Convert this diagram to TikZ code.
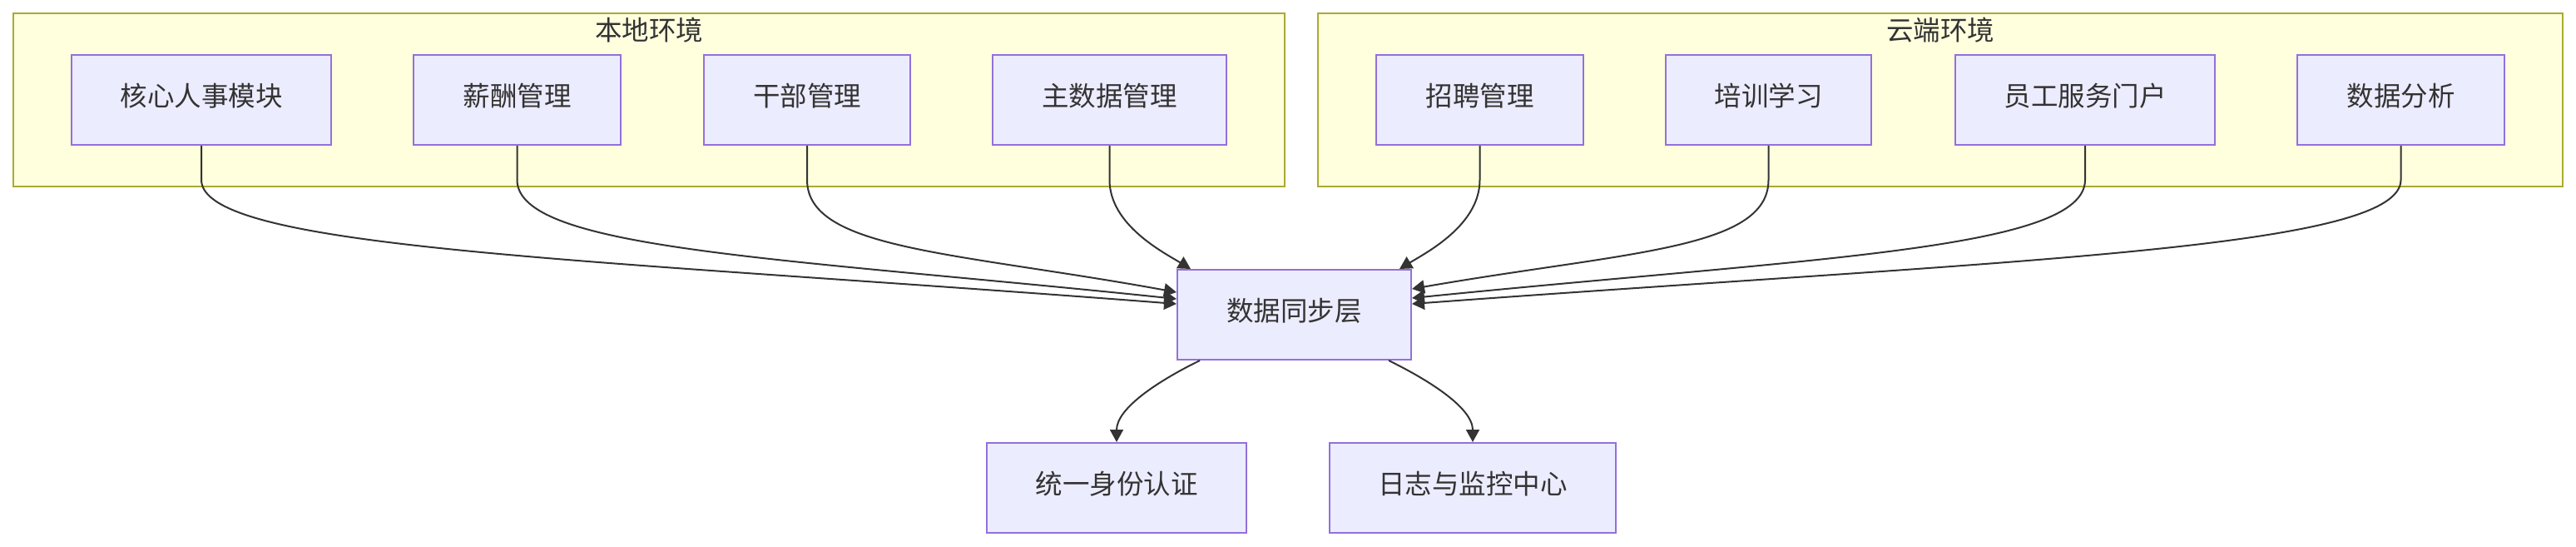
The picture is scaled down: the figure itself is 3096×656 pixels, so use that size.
\documentclass[tikz,border=0pt]{standalone}
\usepackage{fontspec}
\setmainfont{Noto Sans CJK SC}
\usetikzlibrary{arrows.meta,calc}
\definecolor{nodefill}{HTML}{ECECFF}
\definecolor{nodeline}{HTML}{9370DB}
\definecolor{clusterfill}{HTML}{FFFFDE}
\definecolor{clusterline}{HTML}{AAAA33}
\definecolor{ink}{HTML}{333333}
\tikzset{
  box/.style={draw=nodeline, fill=nodefill, line width=2pt, minimum height=108pt,
    inner sep=0pt, text=ink, font=\fontsize{32.5}{39}\selectfont,
    text height=1.45em, text depth=0pt},
  cluster/.style={draw=clusterline, fill=clusterfill, line width=2pt},
  clustertitle/.style={text=ink, font=\fontsize{32.5}{39}\selectfont, inner sep=0pt,
    text height=1.45em, text depth=0pt},
  edge/.style={draw=ink, line width=2pt, -{Triangle[length=15pt,width=16pt]}}
}
\begin{document}
\begin{tikzpicture}[x=1pt,y=-1pt]
\useasboundingbox (0,0) rectangle (3096,656);
% clusters
\draw[cluster] (15.5,15.7) rectangle (1544,224);
\draw[cluster] (1584,15.7) rectangle (3080,224);
\node[clustertitle] (tlocal) at (780,41) {本地环境};
\node[clustertitle] (tcloud) at (2332,41) {云端环境};
% top nodes
\node[box, minimum width=312pt] (core) at (242,120) {核心人事模块};
\node[box, minimum width=249pt] (salary) at (621.5,120) {薪酬管理};
\node[box, minimum width=248pt] (cadre) at (970,120) {干部管理};
\node[box, minimum width=281pt] (master) at (1333.5,120) {主数据管理};
\node[box, minimum width=249pt] (recruit) at (1778.5,120) {招聘管理};
\node[box, minimum width=247pt] (train) at (2125.5,120) {培训学习};
\node[box, minimum width=312pt] (portal) at (2506,120) {员工服务门户};
\node[box, minimum width=249pt] (analysis) at (2885.5,120) {数据分析};
% middle and bottom
\node[box, minimum width=281pt] (sync) at (1555.5,378) {数据同步层};
\node[box, minimum width=312pt] (auth) at (1342,586) {统一身份认证};
\node[box, minimum width=344pt] (logc) at (1770,586) {日志与监控中心};
% end points on sync
\coordinate (inL1) at ($(sync.north west)+(0,28)$);
\coordinate (inL2) at ($(sync.north west)+(0,36)$);
\coordinate (inL3) at ($(sync.north west)+(0,42)$);
\coordinate (inR1) at ($(sync.north east)+(0,24)$);
\coordinate (inR2) at ($(sync.north east)+(0,35)$);
\coordinate (inR3) at ($(sync.north east)+(0,42)$);
\coordinate (inT1) at ($(sync.north west)+(17,0)$);
\coordinate (inT2) at ($(sync.north east)+(-15,0)$);
\coordinate (outB1) at ($(sync.south west)+(28,0)$);
\coordinate (outB2) at ($(sync.south east)+(-28,0)$);
% edges
\draw[edge] (core.south) -- ++(0,41) .. controls (242,300) and (715,311) .. (inL3);
\draw[edge] (salary.south) -- ++(0,41) .. controls (621.5,300) and (939,309.5) .. (inL2);
\draw[edge] (cadre.south) -- ++(0,41) .. controls (970,300) and (1148,302.6) .. (inL1);
\draw[edge] (master.south) -- ++(0,41) .. controls (1333.5,270) and (1398,303) .. (inT1);
\draw[edge] (recruit.south) -- ++(0,41) .. controls (1778.5,270) and (1715,303) .. (inT2);
\draw[edge] (train.south) -- ++(0,41) .. controls (2125.5,300) and (1954,302.3) .. (inR1);
\draw[edge] (portal.south) -- ++(0,41) .. controls (2506,300) and (2182,309.4) .. (inR2);
\draw[edge] (analysis.south) -- ++(0,41) .. controls (2885.5,300) and (2410,312.5) .. (inR3);
\draw[edge] (outB1) .. controls (1393,457) and (1342,490) .. (auth.north);
\draw[edge] (outB2) .. controls (1718,457) and (1770,490) .. (logc.north);
\end{tikzpicture}
\end{document}
